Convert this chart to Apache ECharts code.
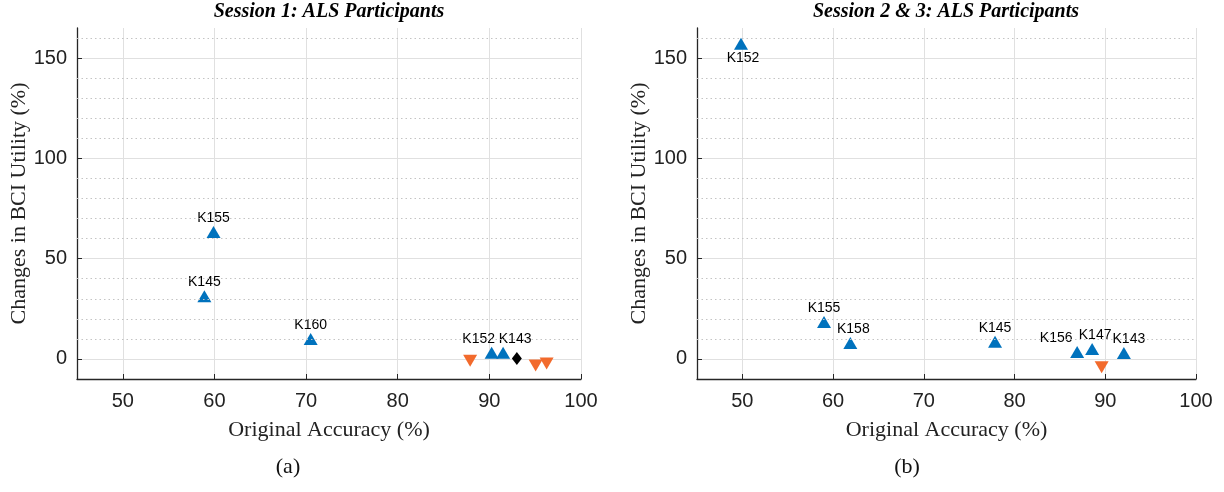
<!DOCTYPE html>
<html>
<head>
<meta charset="utf-8">
<script src="https://cdn.jsdelivr.net/npm/echarts@6/dist/echarts.min.js"></script>
<style>html,body{margin:0;padding:0;background:#fff;}#chart{width:1224px;height:492px;}</style>
</head>
<body>
<div id="chart"></div>
<script>
// ---- Data ----
// Session 1
const s1UpLabels = ['K155', 'K145', 'K160', 'K152', 'K143'];
const s1UpAcc = [59.9, 58.9, 70.5, 90.25, 91.5];
const s1UpUtil = [63.3, 31.3, 10.0, 3.1, 3.1];
const s1DownAcc = [87.9, 95.05, 96.25];
const s1DownUtil = [-0.9, -3.3, -2.3];
const s1FlatAcc = [93.0];
const s1FlatUtil = [0.2];
// Session 2 & 3
const s2UpLabels = ['K152', 'K155', 'K158', 'K145', 'K156', 'K147', 'K143'];
const s2UpAcc = [49.85, 59.0, 61.9, 77.85, 86.9, 88.55, 92.05];
const s2UpUtil = [157.1, 18.4, 8.0, 8.6, 3.5, 5.0, 3.0];
const s2DownAcc = [89.6];
const s2DownUtil = [-4.2];
// Axes
const xTicks = [50, 60, 70, 80, 90, 100];
const yTicks = [0, 50, 100, 150];
const titles = ['Session 1: ALS Participants', 'Session 2 & 3: ALS Participants'];
const xName = 'Original Accuracy (%)';
const yName = 'Changes in BCI Utility (%)';
const panelTags = ['(a)', '(b)'];

// ---- Styling / layout ----
const BLUE = '#0072BD', ORANGE = '#F26A2C', BLACK = '#000000';
const AXC = '#262626';
const labelStyle = {
  'K152@0': {offset: [-13, 0]}, 'K143@0': {offset: [12, 0]},
  'K152@1': {position: 'bottom', offset: [2, 0]},
  'K156@1': {offset: [-21, 0]}, 'K147@1': {offset: [3, 0]},
  'K143@1': {offset: [5, 0]}, 'K158@1': {offset: [3, 0]}
};
const minorY = [];
for (let v = -10; v <= 165; v += 10) if (v % 50 !== 0 && v > -10) minorY.push(v);

const grids = [
  {left: 77, right: 643, top: 28, bottom: 113},
  {left: 697, right: 28, top: 28, bottom: 113}
];

function xAx(i) {
  return {
    type: 'value', gridIndex: i, min: 45, max: 100,
    axisLine: {show: true, onZero: false, lineStyle: {color: AXC, width: 1.3}},
    axisTick: {show: true, inside: true, length: 5, customValues: xTicks, lineStyle: {color: AXC}},
    axisLabel: {customValues: xTicks, fontFamily: 'Liberation Sans', fontSize: 20, color: '#222', margin: 12},
    splitLine: {show: true, lineStyle: {color: '#e0e0e0', width: 1}},
    name: xName, nameLocation: 'middle', nameGap: 40,
    nameTextStyle: {fontFamily: 'Liberation Serif', fontSize: 22, color: '#222'}
  };
}
function yAx(i) {
  return {
    type: 'value', gridIndex: i, min: -10, max: 165,
    axisLine: {show: true, onZero: false, lineStyle: {color: AXC, width: 1.3}},
    axisTick: {show: true, inside: true, length: 5, customValues: yTicks, lineStyle: {color: AXC}},
    axisLabel: {customValues: yTicks, fontFamily: 'Liberation Sans', fontSize: 20, color: '#222', margin: 10},
    splitLine: {show: true, lineStyle: {color: '#e0e0e0', width: 1}},
    name: yName, nameLocation: 'middle', nameGap: 45,
    nameTextStyle: {fontFamily: 'Liberation Serif', fontSize: 22, color: '#222'}
  };
}
function zip(a, b) { return a.map((v, k) => [v, b[k]]); }
function labeled(acc, util, names, gi) {
  return acc.map((v, k) => {
    const st = labelStyle[names[k] + '@' + gi] || {};
    return {
      value: [v, util[k]], name: names[k],
      label: {show: true, formatter: names[k], position: st.position || 'top',
        offset: st.offset || [0, 0], distance: 1,
        fontFamily: 'Liberation Sans', fontSize: 14, color: '#000'}
    };
  });
}
const series = [];
[0, 1].forEach(gi => {
  series.push({
    type: 'line', xAxisIndex: gi, yAxisIndex: gi, data: [], z: 1, silent: true,
    markLine: {silent: true, symbol: 'none', animation: false, label: {show: false},
      lineStyle: {type: [1.5, 3], color: '#c4c4c4', width: 1},
      data: minorY.map(v => ({yAxis: v}))}
  });
});
const mk = {opacity: 1};
series.push({type: 'scatter', xAxisIndex: 0, yAxisIndex: 0, symbol: 'triangle', symbolSize: [14, 12],
  itemStyle: Object.assign({color: BLUE}, mk), z: 3, data: labeled(s1UpAcc, s1UpUtil, s1UpLabels, 0)});
series.push({type: 'scatter', xAxisIndex: 0, yAxisIndex: 0, symbol: 'triangle', symbolRotate: 180, symbolSize: [14, 12],
  itemStyle: Object.assign({color: ORANGE}, mk), z: 3, data: zip(s1DownAcc, s1DownUtil)});
series.push({type: 'scatter', xAxisIndex: 0, yAxisIndex: 0, symbol: 'diamond', symbolSize: [10, 13],
  itemStyle: Object.assign({color: BLACK}, mk), z: 3, data: zip(s1FlatAcc, s1FlatUtil)});
series.push({type: 'scatter', xAxisIndex: 1, yAxisIndex: 1, symbol: 'triangle', symbolSize: [14, 12],
  itemStyle: Object.assign({color: BLUE}, mk), z: 3, data: labeled(s2UpAcc, s2UpUtil, s2UpLabels, 1)});
series.push({type: 'scatter', xAxisIndex: 1, yAxisIndex: 1, symbol: 'triangle', symbolRotate: 180, symbolSize: [14, 12],
  itemStyle: Object.assign({color: ORANGE}, mk), z: 3, data: zip(s2DownAcc, s2DownUtil)});

const graphic = [];
const titleX = [329, 946];
const tagX = [288, 907];
[0, 1].forEach(i => {
  graphic.push({type: 'text', x: titleX[i], y: 12, style: {text: titles[i], align: 'center', verticalAlign: 'middle',
    font: 'italic bold 20px "Liberation Serif"', fill: '#000'}});
  graphic.push({type: 'text', x: tagX[i], y: 467, style: {text: panelTags[i], align: 'center', verticalAlign: 'middle',
    font: '22px "Liberation Serif"', fill: '#111'}});
});

const chart = echarts.init(document.getElementById('chart'), null, {renderer: 'canvas'});
chart.setOption({
  animation: false,
  backgroundColor: '#fff',
  grid: grids,
  xAxis: [xAx(0), xAx(1)],
  yAxis: [yAx(0), yAx(1)],
  series: series,
  graphic: graphic
});
</script>
</body>
</html>
